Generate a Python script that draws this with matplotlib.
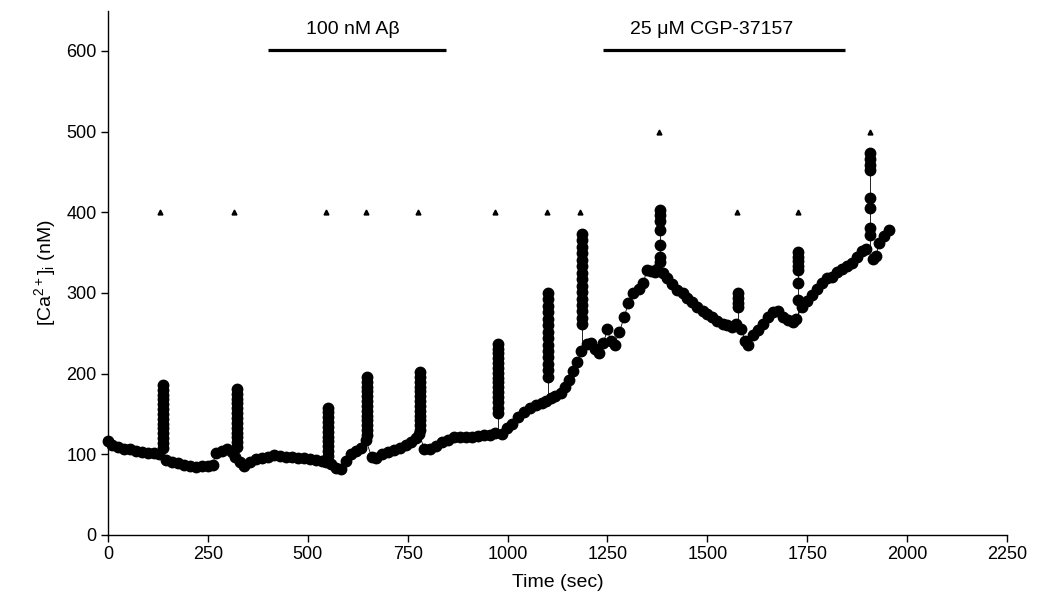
import numpy as np
import matplotlib.pyplot as plt

plt.rcParams['font.family'] = ['Liberation Sans', 'DejaVu Sans']
plt.rcParams['mathtext.fontset'] = 'custom'
plt.rcParams['mathtext.rm'] = 'Liberation Sans'
plt.rcParams['mathtext.it'] = 'Liberation Sans'

# baseline trace, time (sec) and [Ca2+]i (nM)
base_t = [0, 10, 25, 40, 55, 70, 85, 100, 115, 128, 145, 160, 175, 190, 205, 220, 235, 250, 262,
          270, 285, 298, 310, 318, 330, 340, 355, 370, 385, 400, 415, 430, 445, 460, 475, 490,
          505, 520, 535, 545, 558, 570, 582, 595, 607, 620, 633, 645, 660, 672, 685, 700, 715,
          730, 745, 758, 770, 778, 792, 805, 820, 835, 850, 865, 880, 895, 910, 925, 940, 955,
          968, 985, 998, 1010, 1025, 1040, 1055, 1070, 1085, 1095, 1110, 1120, 1133, 1145, 1155,
          1165, 1175, 1183, 1198, 1208, 1218, 1228, 1240, 1250, 1258, 1268, 1280, 1292, 1302,
          1315, 1328, 1340, 1348, 1358, 1368, 1374, 1390, 1400, 1412, 1425, 1438, 1450, 1462,
          1475, 1488, 1500, 1512, 1525, 1538, 1550, 1562, 1572, 1585, 1595, 1602, 1615, 1628,
          1640, 1652, 1665, 1678, 1690, 1702, 1714, 1722, 1738, 1750, 1762, 1775, 1788, 1800,
          1812, 1825, 1838, 1850, 1862, 1875, 1888, 1898, 1915, 1922, 1930, 1942, 1954]
base_ca = [116, 112, 109, 107, 106, 104, 103, 102, 102, 100, 93, 91, 89, 87, 85, 84, 85, 86, 87,
           102, 104, 107, 103, 97, 90, 86, 90, 94, 95, 97, 99, 98, 97, 97, 96, 95,
           94, 93, 92, 91, 88, 83, 82, 92, 100, 104, 108, 118, 97, 95, 100, 103, 105,
           108, 111, 115, 120, 125, 107, 106, 110, 115, 118, 121, 122, 122, 122, 123, 124, 124,
           126, 125, 132, 138, 146, 152, 158, 161, 163, 166, 170, 172, 176, 183, 192,
           203, 214, 228, 237, 238, 230, 226, 238, 255, 240, 236, 252, 270, 287,
           300, 305, 312, 328, 327, 326, 330, 325, 318, 311, 304, 300, 294, 289,
           283, 278, 274, 270, 265, 262, 260, 258, 262, 255, 240, 236, 248, 254,
           262, 270, 276, 277, 270, 266, 264, 268, 283, 290, 298, 305, 312, 318,
           320, 326, 330, 333, 337, 345, 352, 355, 342, 346, 362, 370, 378]

# stimulation transients (dense sampling columns)
spike_t = [138, 322, 551, 649, 781, 976, 1101, 1186, 1381, 1577, 1727, 1907]
spike_base = [100, 97, 91, 118, 125, 126, 168, 233, 330, 263, 266, 355]
spike_ca = [
    [186, 180, 174, 168, 162, 156, 150, 144, 138, 132, 126, 120, 114, 108],
    [181, 175, 169, 163, 157, 151, 145, 139, 133, 127, 121, 115, 109],
    [158, 152, 146, 140, 134, 128, 122, 116, 110, 104, 98],
    [196, 190, 184, 178, 172, 166, 160, 154, 148, 142, 136, 130, 124],
    [202, 196, 190, 184, 178, 172, 166, 160, 154, 148, 142, 136, 130],
    [237, 231, 225, 219, 213, 207, 201, 195, 189, 183, 177, 171, 165, 158, 151],
    [300, 292, 284, 276, 268, 260, 252, 244, 236, 228, 220, 212, 204, 196],
    [373, 365, 357, 349, 341, 333, 325, 317, 309, 301, 293, 285, 277, 269, 261],
    [403, 396, 389, 378, 360, 345, 338],
    [300, 294, 288, 283],
    [351, 345, 339, 333, 328, 312, 291],
    [473, 466, 459, 452, 418, 405, 380, 372],
]

# stimulus markers
stim_t = [130, 315, 546, 646, 776, 968, 1099, 1181, 1379, 1574, 1726, 1907]
stim_level = [400, 400, 400, 400, 400, 400, 400, 400, 500, 400, 400, 500]

# drug application bars
drug_names = ['100 nM A\u03b2', '25 \u03bcM CGP-37157']
drug_start = [400, 1239]
drug_end = [846, 1844]
drug_label_t = [614, 1511]

fig = plt.figure(figsize=(10.37, 6.03), dpi=100)
ax = fig.add_axes([0.1041, 0.1128, 0.867, 0.8697])

ax.plot(base_t, base_ca, '-o', color='black', lw=0.6, ms=7.5, mec='black', mfc='black', clip_on=False)
for t, b, col in zip(spike_t, spike_base, spike_ca):
    xs = [t] * (len(col) + 1)
    ax.plot(xs, col + [b], '-o', color='black', lw=0.6, ms=7.5, markevery=list(range(len(col))))

ax.plot(stim_t, stim_level, '^', color='black', ms=3.5, ls='none')

for name, s, e, lt in zip(drug_names, drug_start, drug_end, drug_label_t):
    ax.plot([s, e], [601, 601], color='black', lw=2.3, solid_capstyle='butt', clip_on=False)
    ax.text(lt, 616, name, ha='center', va='bottom', fontsize=14)

ax.set_xlim(0, 2250)
ax.set_ylim(0, 650)
ax.set_xticks([0, 250, 500, 750, 1000, 1250, 1500, 1750, 2000, 2250])
ax.set_yticks([0, 100, 200, 300, 400, 500, 600])
ax.spines['top'].set_visible(False)
ax.spines['right'].set_visible(False)
ax.spines['left'].set_linewidth(1.0)
ax.spines['bottom'].set_linewidth(1.0)
ax.tick_params(direction='out', length=5, width=1, labelsize=13, pad=3)
ax.set_xlabel('Time (sec)', fontsize=14, labelpad=8)
ax.set_ylabel(r'[Ca$^{2+}$]$_{\mathregular{i}}$ (nM)', fontsize=14, labelpad=6)

fig.savefig('out.png', dpi=100)
